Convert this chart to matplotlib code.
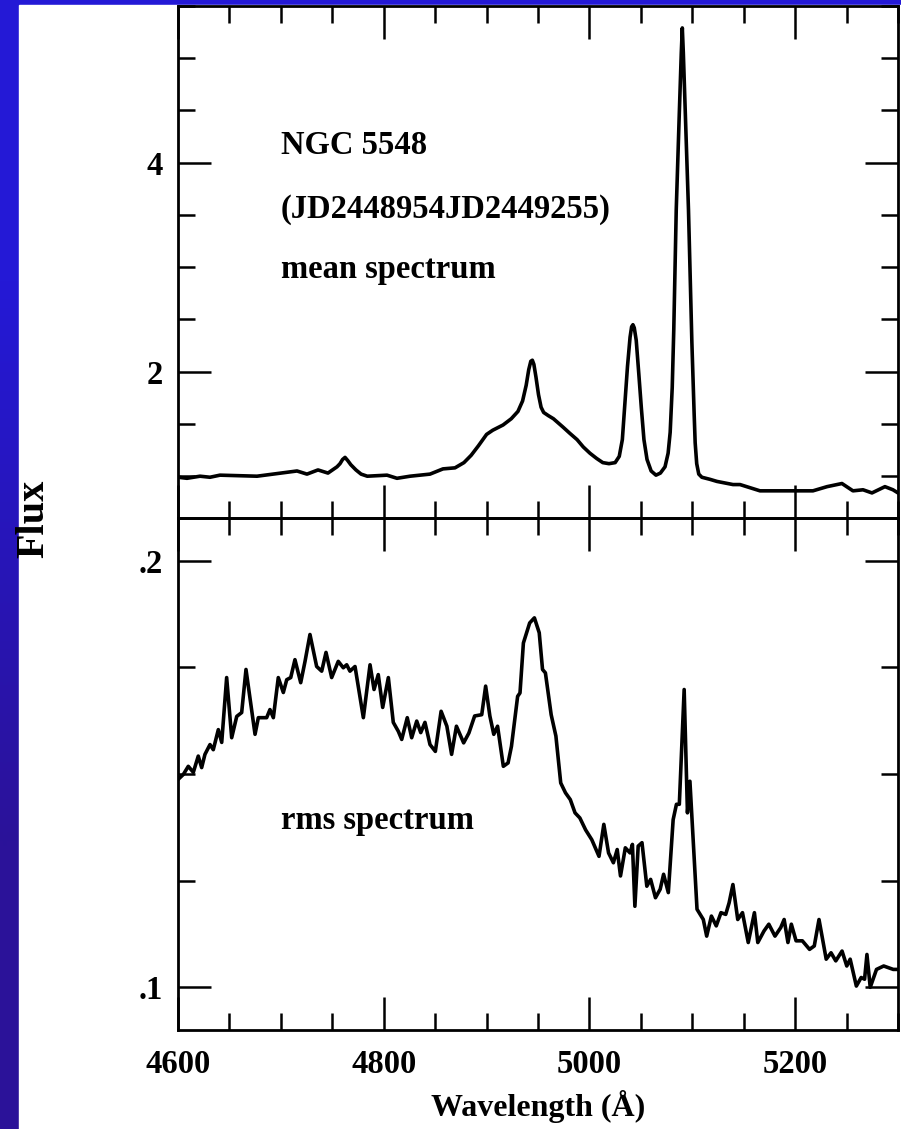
import numpy as np
import matplotlib
matplotlib.use('Agg')
import matplotlib.pyplot as plt
from matplotlib.ticker import MultipleLocator, FuncFormatter
from matplotlib.colors import LinearSegmentedColormap
from matplotlib.patches import Rectangle

# mean spectrum (wavelength in Angstrom, flux)
mean_wave = [4600, 4608.7, 4621.4, 4631.1, 4640.8, 4676.8, 4715.7, 4725.4, 4736.1,
             4745.8, 4754.6, 4757.5, 4760.0, 4762.4, 4765.0, 4768.0, 4773.0, 4778.0,
             4784.0, 4803.2, 4812.9, 4825.6, 4845.0, 4857.6, 4869.3, 4878.0, 4885.0,
             4892.0, 4900.0, 4906.0, 4916.0, 4924.0, 4930.5, 4935.0, 4938.5, 4941.0,
             4943.0, 4944.5, 4946.0, 4948.0, 4950.5, 4953.0, 4955.5, 4960.0, 4965.0,
             4974.3, 4981.0, 4988.0, 4994.0, 5000.5, 5007.0, 5013.0, 5019.0, 5025.0,
             5029.0, 5032.0, 5034.5, 5037.0, 5039.5, 5041.0, 5042.3, 5043.6, 5045.5,
             5048.0, 5050.5, 5053.0, 5056.0, 5060.0, 5064.7, 5069.0, 5073.5, 5076.5,
             5078.5, 5080.5, 5082.0, 5084.4, 5087.3, 5089.3, 5090.3, 5091.3, 5093.3,
             5096.3, 5099.6, 5101.8, 5102.8, 5104.3, 5106.3, 5109.3, 5117.2, 5124.0,
             5139.6, 5146.4, 5165.8, 5192.1, 5217.3, 5231.0, 5245.5, 5256.2, 5266.0,
             5274.7, 5287.3, 5295.1, 5300]
mean_flux = [0.99, 0.98, 1.00, 0.99, 1.01, 1.00, 1.05, 1.02, 1.06,
             1.03, 1.09, 1.12, 1.16, 1.18, 1.15, 1.11, 1.06, 1.02,
             1.00, 1.01, 0.98, 1.00, 1.02, 1.07, 1.08, 1.13, 1.20,
             1.29, 1.40, 1.44, 1.49, 1.55, 1.62, 1.72, 1.87, 2.02,
             2.10, 2.11, 2.07, 1.95, 1.78, 1.66, 1.61, 1.58, 1.55,
             1.47, 1.41, 1.35, 1.28, 1.22, 1.17, 1.13, 1.12, 1.13,
             1.19, 1.35, 1.70, 2.05, 2.33, 2.43, 2.45, 2.42, 2.30,
             1.98, 1.65, 1.35, 1.16, 1.05, 1.01, 1.03, 1.09, 1.22,
             1.42, 1.85, 2.40, 3.55, 4.45, 5.05, 5.29, 5.05, 4.45,
             3.55, 2.28, 1.60, 1.32, 1.12, 1.02, 0.99, 0.97, 0.95,
             0.92, 0.92, 0.86, 0.86, 0.86, 0.90, 0.93, 0.86, 0.87,
             0.84, 0.90, 0.87, 0.84]

# rms spectrum
rms_wave = [4600, 4605.2, 4610.0, 4614.9, 4619.7, 4623.0, 4626.2, 4631.1, 4634.3,
            4639.2, 4642.5, 4647.3, 4652.2, 4657.1, 4661.9, 4666.1, 4674.9, 4678.1,
            4686.2, 4689.4, 4692.7, 4697.5, 4702.4, 4705.7, 4709.6, 4713.7, 4719.3,
            4723.5, 4728.3, 4734.8, 4739.7, 4743.9, 4749.4, 4755.8, 4760.7, 4764.0,
            4767.2, 4772.1, 4780.2, 4786.7, 4790.6, 4794.7, 4799.0, 4804.5, 4809.3,
            4814.2, 4817.5, 4822.9, 4827.2, 4832.1, 4836.0, 4840.1, 4845.0, 4850.2,
            4855.8, 4861.4, 4866.0, 4870.7, 4877.7, 4882.8, 4888.4, 4895.3, 4899.1,
            4903.2, 4907.0, 4910.7, 4916.3, 4920.9, 4924.2, 4930.2, 4932.5, 4935.8,
            4941.9, 4946.5, 4951.2, 4954.4, 4957.2, 4962.8, 4967.4, 4972.1, 4976.7,
            4981.4, 4986.0, 4990.7, 4996.3, 5002.3, 5009.3, 5014.0, 5018.6, 5023.3,
            5027.0, 5030.2, 5034.9, 5039.5, 5041.8, 5044.2, 5047.4, 5051.1, 5055.8,
            5059.5, 5064.2, 5068.8, 5072.1, 5076.7, 5081.4, 5084.6, 5087.4, 5092.1,
            5095.3, 5097.7, 5101.4, 5104.6, 5110.7, 5114.0, 5118.6, 5123.3, 5127.9,
            5132.5, 5135.8, 5139.5, 5144.2, 5148.8, 5154.4, 5160.4, 5163.7, 5169.7,
            5174.4, 5180.4, 5186.0, 5189.3, 5193.0, 5196.3, 5200.9, 5207.0, 5214.0,
            5218.6, 5223.2, 5230.2, 5234.9, 5239.5, 5245.6, 5250.2, 5253.5, 5259.5,
            5264.2, 5267.5, 5269.8, 5273.0, 5279.1, 5286.1, 5295.4, 5300]
rms_flux = [0.1487, 0.1499, 0.1518, 0.1504, 0.1542, 0.1515, 0.1546, 0.1569, 0.1557,
            0.1604, 0.1574, 0.1726, 0.1585, 0.1635, 0.1644, 0.1745, 0.1593, 0.1632,
            0.1632, 0.1651, 0.1632, 0.1726, 0.1691, 0.1721, 0.1726, 0.1768, 0.1714,
            0.1764, 0.1827, 0.1752, 0.1741, 0.1785, 0.1726, 0.1764, 0.1749, 0.1756,
            0.1741, 0.1752, 0.1632, 0.1756, 0.1698, 0.1733, 0.1656, 0.1726, 0.1621,
            0.1600, 0.1581, 0.1632, 0.1585, 0.1624, 0.1597, 0.1621, 0.1569, 0.1553,
            0.1647, 0.1612, 0.1546, 0.1612, 0.1573, 0.1596, 0.1636, 0.1639, 0.1706,
            0.1636, 0.1593, 0.1612, 0.1518, 0.1526, 0.1565, 0.1682, 0.1690, 0.1807,
            0.1854, 0.1866, 0.1831, 0.1745, 0.1737, 0.1639, 0.1589, 0.1479, 0.1456,
            0.1440, 0.1409, 0.1397, 0.1369, 0.1346, 0.1307, 0.1382, 0.1315, 0.1292,
            0.1323, 0.1261, 0.1327, 0.1315, 0.1335, 0.1190, 0.1331, 0.1339, 0.1237,
            0.1253, 0.1210, 0.1230, 0.1265, 0.1222, 0.1393, 0.1429, 0.1429, 0.1698,
            0.1409, 0.1483, 0.1323, 0.1183, 0.1159, 0.1120, 0.1167, 0.1144, 0.1175,
            0.1171, 0.1198, 0.1241, 0.1159, 0.1175, 0.1105, 0.1175, 0.1105, 0.1132,
            0.1148, 0.1120, 0.1140, 0.1159, 0.1105, 0.1148, 0.1109, 0.1109, 0.1089,
            0.1097, 0.1159, 0.1066, 0.1081, 0.1062, 0.1085, 0.1050, 0.1066, 0.1003,
            0.1023, 0.1019, 0.1077, 0.1000, 0.1042, 0.1050, 0.1042, 0.1042]

font = {'family': 'Liberation Serif', 'weight': 'bold'}
plt.rcParams['font.family'] = 'Liberation Serif'
plt.rcParams['font.weight'] = 'bold'

fig = plt.figure(figsize=(9.01, 11.29), dpi=100)

# blue slide background with white panel
bg = fig.add_axes([0, 0, 1, 1])
cmap = LinearSegmentedColormap.from_list('bg', ['#2419d6', '#2b1299'])
bg.imshow([[0], [1]], cmap=cmap, aspect='auto', interpolation='bilinear',
          extent=[0, 1, 0, 1])
bg.add_patch(Rectangle((19 / 901, 0), 1, 1 - 5 / 1129, color='white'))
bg.set_xlim(0, 1)
bg.set_ylim(0, 1)
bg.axis('off')

left, width = 178 / 901, 720 / 901
ax1 = fig.add_axes([left, 1 - 518 / 1129, width, 512 / 1129])
ax2 = fig.add_axes([left, 1 - 1030 / 1129, width, 512 / 1129])

ax1.plot(mean_wave, mean_flux, color='black', lw=2.6, solid_joinstyle='round')
ax2.plot(rms_wave, rms_flux, color='black', lw=2.6, solid_joinstyle='round')

ax1.set_ylim(0.6, 5.5)
ax2.set_ylim(0.09, 0.21)

for ax in (ax1, ax2):
    ax.set_xlim(4600, 5300)
    ax.xaxis.set_major_locator(MultipleLocator(200))
    ax.xaxis.set_minor_locator(MultipleLocator(50))
    ax.tick_params(which='both', direction='in', top=True, right=True,
                   width=1.8, labelsize=23.5)
    ax.tick_params(which='major', length=24)
    ax.tick_params(which='minor', length=12)
    ax.tick_params(axis='y', pad=11)
    ax.tick_params(axis='x', pad=14)
    for s in ax.spines.values():
        s.set_linewidth(2.0)
    ax.patch.set_alpha(0)

ax1.yaxis.set_major_locator(MultipleLocator(2))
ax1.yaxis.set_minor_locator(MultipleLocator(0.5))
ax1.tick_params(labelbottom=False)

ax2.yaxis.set_major_locator(MultipleLocator(0.1))
ax2.yaxis.set_minor_locator(MultipleLocator(0.025))
ax2.yaxis.set_major_formatter(FuncFormatter(lambda v, p: f'{v:.1f}'.lstrip('0')))

ax1.text(4700, 4.086, 'NGC 5548', fontsize=23.5, **font)
ax1.text(4700, 3.474, '(JD2448954JD2449255)', fontsize=23.5, **font)
ax1.text(4700, 2.90, 'mean spectrum', fontsize=23.5, **font)
ax2.text(4700, 0.1372, 'rms spectrum', fontsize=23.5, **font)

ax2.set_xlabel('Wavelength (Å)', fontsize=23, labelpad=7, **font)
fig.text(34 / 901, 1 - 519 / 1129, 'Flux', rotation=90, fontsize=29,
         ha='center', va='center', **font)

fig.savefig('out.png', dpi=100)
